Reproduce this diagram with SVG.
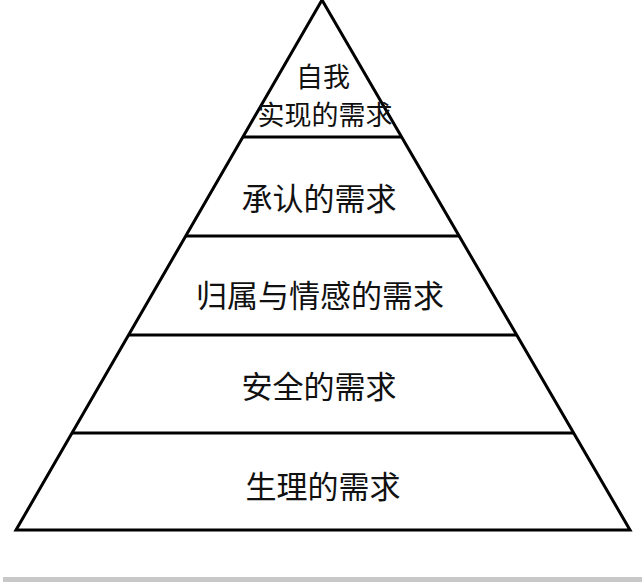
<svg xmlns="http://www.w3.org/2000/svg" width="642" height="582" viewBox="0 0 642 582">
<style>
.edge{fill:none;stroke:#000;stroke-width:3;stroke-linejoin:miter}
.lbl{font-family:"Liberation Serif","Noto Sans CJK SC",serif;font-size:31px;fill:#111;text-anchor:middle;dominant-baseline:central}
.top{font-size:27px}
</style>
<rect width="642" height="582" fill="#fff"/>
<g id="connectors">
<polygon class="edge" points="322,0 16,530 630,530"/>
<line class="edge" x1="243" y1="137" x2="402" y2="137"/>
<line class="edge" x1="186" y1="236" x2="459" y2="236"/>
<line class="edge" x1="129" y1="335" x2="517" y2="335"/>
<line class="edge" x1="72" y1="433" x2="574" y2="433"/>
</g>
<g id="level5"><text class="lbl top" x="323" y="78">自我</text><text class="lbl top" x="325" y="116">实现的需求</text></g>
<g id="level4"><text class="lbl" x="319" y="199">承认的需求</text></g>
<g id="level3"><text class="lbl" x="320" y="296">归属与情感的需求</text></g>
<g id="level2"><text class="lbl" x="319" y="387">安全的需求</text></g>
<g id="level1"><text class="lbl" x="323" y="487">生理的需求</text></g>
<rect x="3" y="577" width="639" height="5" fill="#c8c8c8"/>
</svg>
